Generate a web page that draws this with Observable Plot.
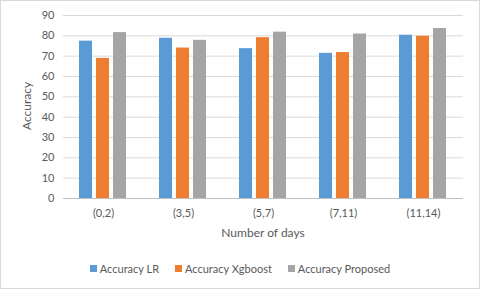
<!DOCTYPE html>
<html>
<head>
<meta charset="utf-8">
<script src="https://cdn.jsdelivr.net/npm/d3@7"></script>
<script src="https://cdn.jsdelivr.net/npm/@observablehq/plot@0.6"></script>
<style>
  html, body { margin: 0; padding: 0; background: #fff; }
  #wrap { position: relative; width: 480px; height: 289px; overflow: hidden; font-family: Lato, "Open Sans", sans-serif; }
  #border { position: absolute; left: 0; top: 0; width: 480px; height: 289px; box-sizing: border-box; border: 1px solid #d9d9d9; pointer-events: none; }
  #legend { position: absolute; left: 0; top: 262px; width: 480px; display: flex; justify-content: center; gap: 16px; font-size: 11px; color: #595959; }
  #legend span.item { display: flex; align-items: center; gap: 3px; }
  #legend span.sw { display: inline-block; width: 7px; height: 7px; }
</style>
</head>
<body>
<div id="wrap">
  <div id="chart"></div>
  <div id="legend"></div>
  <div id="border"></div>
</div>
<script>
const groups = ["(0,2)", "(3,5)", "(5,7)", "(7,11)", "(11,14)"];
const seriesNames = ["Accuracy LR", "Accuracy Xgboost", "Accuracy Proposed"];
const colors = ["#5B9BD5", "#ED7D31", "#A5A5A5"];
const accuracyLR = [77.4, 78.8, 73.7, 71.4, 80.3];
const accuracyXgboost = [68.9, 74.0, 79.1, 71.8, 79.8];
const accuracyProposed = [81.6, 77.8, 81.8, 80.9, 83.6];
const yTicks = [0, 10, 20, 30, 40, 50, 60, 70, 80, 90];

const seriesValues = [accuracyLR, accuracyXgboost, accuracyProposed];
const data = [];
groups.forEach((g, i) => {
  seriesNames.forEach((s, j) => data.push({group: g, series: s, value: seriesValues[j][i]}));
});

const chart = Plot.plot({
  width: 480,
  height: 245,
  marginTop: 15,
  marginBottom: 47,
  marginLeft: 61,
  marginRight: 15,
  style: {fontFamily: "Lato, 'Open Sans', sans-serif", color: "#595959", background: "transparent"},
  fx: {domain: groups, padding: 0, label: null},
  x: {domain: seriesNames, paddingInner: 0.222, paddingOuter: 0.856, axis: null},
  y: {domain: [0, 90], label: null},
  color: {domain: seriesNames, range: colors},
  marks: [
    Plot.gridY(yTicks, {stroke: "#d9d9d9", strokeOpacity: 1}),
    Plot.axisY(yTicks, {tickSize: 0, tickPadding: 9, fontSize: 11, fill: "#595959", label: null}),
    Plot.axisFx({anchor: "bottom", tickSize: 0, tickPadding: 11, fontSize: 11, fill: "#595959", label: null}),
    Plot.barY(data, {fx: "group", x: "series", y: "value", fill: "series"}),
    Plot.ruleY([0], {stroke: "#bfbfbf"})
  ]
});
document.getElementById("chart").appendChild(chart);

// axis titles as SVG text in chart coordinates
const svg = d3.select(chart);
svg.append("text")
  .attr("x", 263).attr("y", 233).attr("dy", "0.35em")
  .attr("text-anchor", "middle").attr("font-size", 12).attr("fill", "#595959")
  .text("Number of days");
svg.append("text")
  .attr("transform", "translate(27,106) rotate(-90)").attr("dy", "0.35em")
  .attr("text-anchor", "middle").attr("font-size", 12).attr("fill", "#595959")
  .text("Accuracy");

const legend = document.getElementById("legend");
seriesNames.forEach((s, j) => {
  const item = document.createElement("span");
  item.className = "item";
  const sw = document.createElement("span");
  sw.className = "sw";
  sw.style.background = colors[j];
  item.appendChild(sw);
  item.appendChild(document.createTextNode(s));
  legend.appendChild(item);
});
</script>
</body>
</html>
